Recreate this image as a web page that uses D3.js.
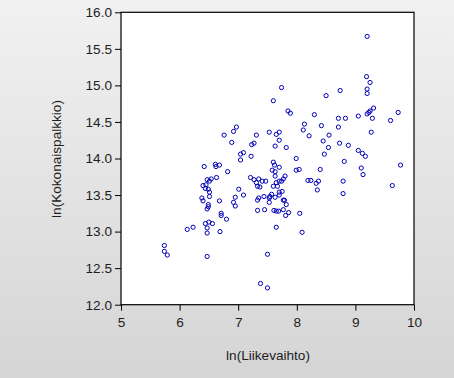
<!DOCTYPE html>
<html><head><meta charset="utf-8">
<script src="https://cdn.jsdelivr.net/npm/d3@7"></script>
<style>
html,body{margin:0;padding:0;}
body{width:454px;height:378px;overflow:hidden;}
svg text{font-family:"Liberation Sans",Arial,sans-serif;fill:#1e1e1e;}
</style></head>
<body>
<script>
const xLabel = "ln(Liikevaihto)";
const yLabel = "ln(Kokonaispalkkio)";
const xTicks = [5,6,7,8,9,10];
const yTicks = [12.0,12.5,13.0,13.5,14.0,14.5,15.0,15.5,16.0];
const xValues = [
9.20,9.19,9.25,9.20,9.20,8.74,8.50,7.74,7.60,7.85,7.89,8.30,9.31,9.25,9.23,9.20,9.05,9.29,9.60,9.73,
8.71,8.83,8.13,8.42,8.71,8.11,7.53,7.65,7.70,8.21,8.55,9.27,7.70,8.45,8.73,8.88,7.63,7.82,8.54,8.47,
9.05,9.12,9.17,7.99,8.81,8.40,9.10,9.13,9.77,6.76,6.92,6.97,6.89,7.31,7.23,7.27,7.09,7.04,7.04,7.22,
6.42,6.61,6.62,6.68,6.82,7.60,7.62,7.70,7.58,7.63,7.99,8.04,
6.63,6.54,6.51,6.47,6.45,6.40,6.44,6.49,6.51,6.51,6.38,6.40,6.49,6.49,6.47,6.68,6.71,6.71,6.80,6.44,
6.50,6.56,6.47,6.47,6.69,6.13,6.23,5.74,5.74,5.79,6.47,
7.01,7.09,6.95,6.92,6.95,7.21,7.27,7.31,7.33,7.37,7.35,7.41,7.47,7.33,7.35,7.44,7.53,7.54,7.53,7.57,
7.33,7.45,7.61,7.65,7.69,7.77,7.81,7.86,8.05,7.65,8.09,7.50,7.38,7.50,
7.63,7.80,7.77,7.74,7.65,7.60,7.67,7.70,8.19,8.24,8.37,8.33,8.79,9.63,8.35,8.79,7.75,7.70,7.70,7.63,
7.77,7.79,7.82
];
const yValues = [
15.67,15.12,15.04,14.95,14.89,14.93,14.86,14.97,14.79,14.65,14.62,14.60,14.69,14.65,14.63,14.61,14.58,14.55,14.52,14.63,
14.55,14.55,14.47,14.45,14.43,14.39,14.36,14.33,14.36,14.31,14.32,14.36,14.25,14.24,14.21,14.18,14.17,14.15,14.15,14.06,
14.11,14.07,14.03,14.00,13.96,13.85,13.87,13.78,13.91,14.32,14.37,14.43,14.22,14.32,14.19,14.21,14.08,14.06,13.98,14.03,
13.89,13.92,13.89,13.91,13.82,13.95,13.91,13.88,13.84,13.82,13.84,13.85,
13.74,13.72,13.69,13.71,13.64,13.63,13.59,13.58,13.54,13.48,13.46,13.42,13.37,13.34,13.31,13.42,13.25,13.22,13.17,13.11,
13.13,13.11,13.05,12.98,13.00,13.03,13.06,12.81,12.73,12.68,12.66,
13.58,13.50,13.47,13.40,13.35,13.74,13.71,13.67,13.62,13.61,13.72,13.69,13.69,13.43,13.46,13.48,13.46,13.48,13.40,13.51,
13.29,13.30,13.29,13.28,13.28,13.30,13.22,13.26,13.25,13.06,12.99,12.69,12.29,12.23,
13.76,13.76,13.72,13.69,13.67,13.62,13.62,13.69,13.70,13.70,13.69,13.66,13.69,13.63,13.57,13.52,13.55,13.54,13.50,13.47,
13.43,13.43,13.37
];

const W = 454, H = 378;
const margin = {left:121, right:40, top:12.3, bottom:73.3};
const svg = d3.select("body").append("svg").attr("width",W).attr("height",H);
const defs = svg.append("defs");
const grad = defs.append("linearGradient").attr("id","bg").attr("x1",0).attr("y1",0).attr("x2",0).attr("y2",1);
grad.append("stop").attr("offset","0%").attr("stop-color","#f1f1f1");
grad.append("stop").attr("offset","100%").attr("stop-color","#d5d5d5");
svg.append("rect").attr("width",W).attr("height",H).attr("fill","url(#bg)");

const x = d3.scaleLinear().domain([5,10]).range([margin.left, W - margin.right]);
const y = d3.scaleLinear().domain([12,16]).range([H - margin.bottom, margin.top]);

svg.append("rect")
  .attr("x", x(5)).attr("y", y(16))
  .attr("width", x(10)-x(5)).attr("height", y(12)-y(16))
  .attr("fill","#fff").attr("stroke","#000").attr("stroke-width",1.2);

const xAxis = svg.append("g").attr("transform",`translate(0,${y(12)})`)
  .call(d3.axisBottom(x).tickValues(xTicks).tickFormat(d3.format("d")).tickSize(6).tickSizeOuter(0));
const yAxis = svg.append("g").attr("transform",`translate(${x(5)},0)`)
  .call(d3.axisLeft(y).tickValues(yTicks).tickFormat(d3.format(".1f")).tickSize(6).tickSizeOuter(0));
[xAxis,yAxis].forEach(g=>{
  g.select(".domain").remove();
  g.selectAll(".tick line").attr("stroke","#000");
  g.selectAll(".tick text").attr("font-size","13.6px").attr("fill","#1e1e1e")
   .attr("font-family","Liberation Sans, Arial, sans-serif");
});
xAxis.selectAll(".tick text").attr("dy","1.0em");
yAxis.selectAll(".tick text").attr("x",-9);

svg.append("text").attr("x",268).attr("y",360).attr("text-anchor","middle")
  .attr("font-size","13.6px").text(xLabel);
svg.append("text").attr("transform","translate(61,159) rotate(-90)").attr("text-anchor","middle")
  .attr("font-size","13.6px").text(yLabel);

const pts = xValues.map((v,i)=>({x:v,y:yValues[i]}));
svg.append("g").selectAll("circle").data(pts).join("circle")
  .attr("cx",d=>x(d.x)).attr("cy",d=>y(d.y)).attr("r",2.1)
  .attr("fill","none").attr("stroke","#0000b8").attr("stroke-width",1);
</script>
</body></html>
